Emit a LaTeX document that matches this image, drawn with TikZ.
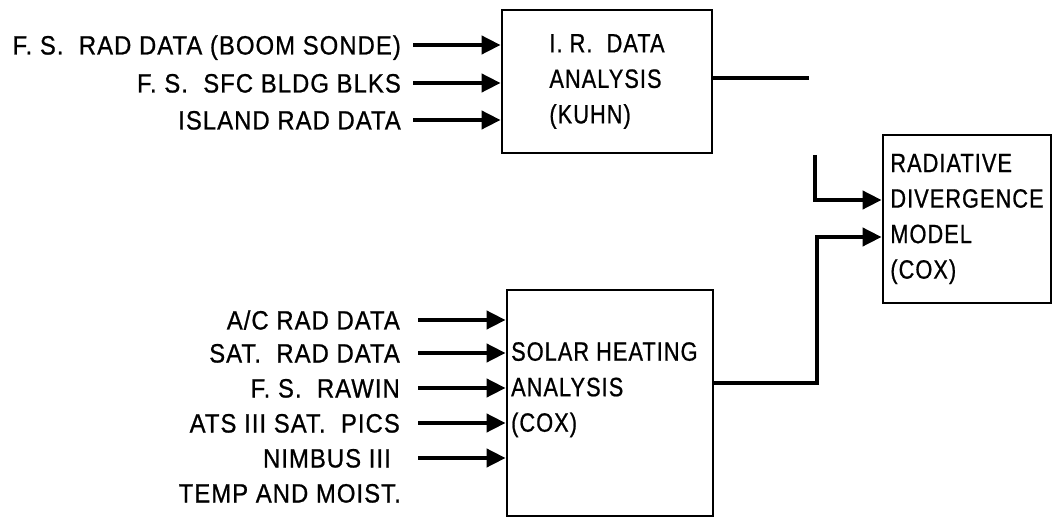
\documentclass[tikz,border=0pt]{standalone}
\usepackage{fontspec}
\usetikzlibrary{arrows.meta}
\newfontfamily\labfont{Liberation Sans}[FakeStretch=0.9,LetterSpace=4,FakeBold=0.8]
\newfontfamily\boxfont{Liberation Sans}[FakeStretch=0.82,LetterSpace=4,FakeBold=0.8]
\tikzset{
  lab/.style={font={\labfont\fontsize{26.5}{35}\selectfont}, inner sep=0pt, text height=19pt, text depth=0pt, anchor=east},
  boxnode/.style={draw, line width=2.8pt, font={\boxfont\fontsize{26.5}{35.5}\selectfont}, align=left, inner sep=0pt},
  btext/.style={font={\boxfont\fontsize{26.5}{35.5}\selectfont}, align=left, inner sep=0pt},
  conn/.style={line width=4pt},
  arr/.style={line width=4pt, -{Triangle[length=19pt,width=18pt]}}
}
\begin{document}
\begin{tikzpicture}[x=1pt,y=-1pt]
\useasboundingbox (0,0) rectangle (1054,518);
% boxes
\node[boxnode, minimum width=210pt, minimum height=143pt] (ir) at (607,81.5) {I. R.\ \ DATA\\ANALYSIS\\(KUHN)};
\node[boxnode, minimum width=168pt, minimum height=168pt] (rad) at (967,219) {RADIATIVE\\DIVERGENCE\\MODEL\\(COX)};
\node[boxnode, minimum width=206pt, minimum height=226pt] (solar) at (610,403) {};
\node[btext, anchor=north west] (soltxt) at (511,342) {SOLAR HEATING\\ANALYSIS\\(COX)};
% top labels
\node[lab] (l1) at (401,45) {F. S.\ \ RAD DATA (BOOM SONDE)};
\node[lab] (l2) at (401,83) {F. S.\ \ SFC BLDG BLKS};
\node[lab] (l3) at (401,120) {ISLAND RAD DATA};
\foreach \n in {l1,l2,l3}
  \draw[arr] ([xshift=12pt]\n.east) -- (\n.east -| ir.west);
% bottom labels
\node[lab] (b1) at (400,320) {A/C RAD DATA};
\node[lab] (b2) at (400,353) {SAT.\ \ RAD DATA};
\node[lab] (b3) at (400,388) {F. S.\ \ RAWIN};
\node[lab] (b4) at (400,423) {ATS III SAT.\ \ PICS};
\node[lab] (b5) at (391,458) {NIMBUS III};
\node[lab] (b6) at (401,493) {TEMP AND MOIST.};
\draw[arr] ([xshift=18pt]b1.east) -- (b1.east -| solar.west);
\draw[arr] ([xshift=18pt]b2.east) -- (b2.east -| solar.west);
\draw[arr] ([xshift=18pt]b3.east) -- (b3.east -| solar.west);
\draw[arr] ([xshift=18pt]b4.east) -- (b4.east -| solar.west);
\draw[arr] ([xshift=27pt]b5.east) -- (b5.east -| solar.west);
% IR output
\coordinate (irend) at (809,78);
\draw[conn] (irend -| ir.east) -- (irend);
% inputs to radiative model
\coordinate (c1) at (815,155);
\coordinate (k1) at (815,200);
\draw[arr] (c1) -- (k1) -- (k1 -| rad.west);
\coordinate (k3) at (817,383);
\coordinate (k4) at (817,237);
\draw[arr] (k3 -| solar.east) -- (k3) -- (k4) -- (k4 -| rad.west);
\end{tikzpicture}
\end{document}
